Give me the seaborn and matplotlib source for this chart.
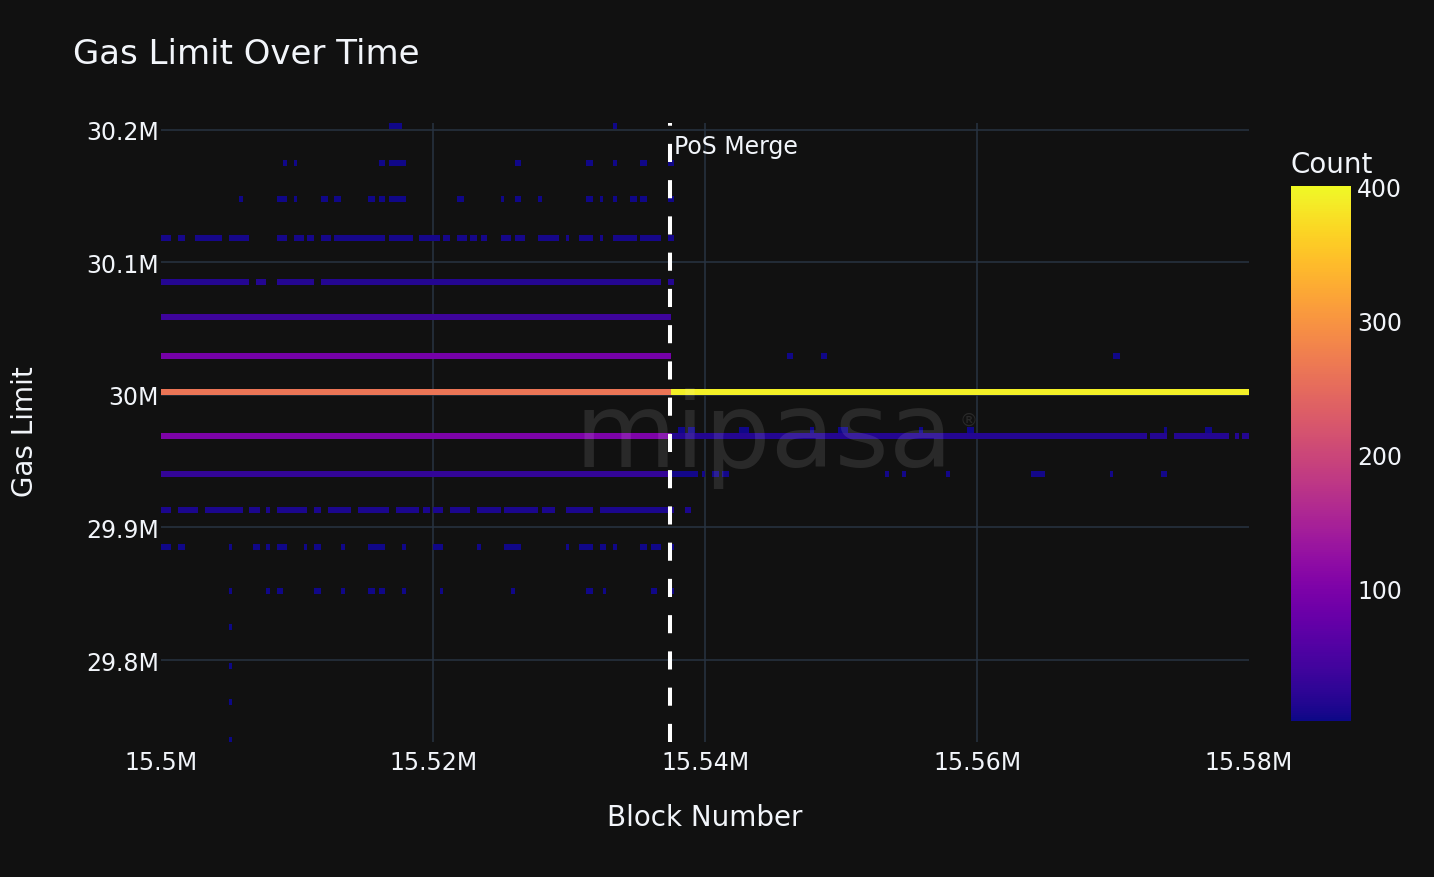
"""
Gas limit per block around the PoS merge, drawn as a 2D count histogram.
"""

import matplotlib
matplotlib.use("Agg")
import matplotlib.pyplot as plt
import numpy as np
import seaborn as sns

# ── Style ─────────────────────────────────────────────────────────────────────
BG = "#111111"
GRID = "#283442"
TEXT = "#f2f5fa"

sns.set_theme(style="dark", rc={
    "figure.facecolor": BG,
    "axes.facecolor": BG,
    "text.color": TEXT,
    "xtick.color": TEXT,
    "ytick.color": TEXT,
})
plt.rcParams["font.family"] = ["DejaVu Sans"]

# ── Data ──────────────────────────────────────────────────────────────────────
BLOCK0 = 15_500_000
MERGE_BLOCK = 15_537_394
XBIN = 250        # blocks per cell
GAS_HALF = 2_250  # half height of a gas-limit cell

X_TICKS = [15_500_000, 15_520_000, 15_540_000, 15_560_000, 15_580_000]
X_LABELS = ["15.5M", "15.52M", "15.54M", "15.56M", "15.58M"]
Y_TICKS = [29_800_000, 29_900_000, 30_000_000, 30_100_000, 30_200_000]
Y_LABELS = ["29.8M", "29.9M", "30M", "30.1M", "30.2M"]
Y_LIM = (29_738_150, 30_205_050)
CBAR_TICKS = [100, 200, 300, 400]

# gas limit bands (about 1/1024 steps around 30M) and their pre-merge cell count
GAS_LEVELS = [30_202_900, 30_174_800, 30_147_700, 30_118_300, 30_085_100,
              30_058_700, 30_029_500, 30_002_100, 29_968_900, 29_940_500,
              29_913_300, 29_885_200, 29_852_000, 29_824_800, 29_795_600,
              29_768_100, 29_739_800]
PRE_COUNTS = [3, 3, 3, 6, 16, 38, 92, 262, 100, 28, 9, 4, 3, 2, 2, 2, 2]

# filled runs per band, as (first, last) block offsets from 15.5M
RUNS_30203 = [(16840, 17720), (33300, 33600)]
RUNS_30175 = [(8897, 9338), (9632, 10074), (16103, 16544), (16838, 18015),
              (26103, 26544), (31250, 31691), (33309, 33603), (35221, 35662),
              (37279, 37647)]
RUNS_30148 = [(5662, 6103), (8456, 9338), (9632, 10074), (11691, 12132),
              (12868, 13309), (15221, 15662), (16103, 16544), (16838, 18015),
              (21691, 22132), (24926, 25221), (26103, 26544), (27721, 28015),
              (31250, 31691), (32132, 32426), (33309, 33603), (34485, 34926),
              (35221, 35662), (37279, 37647)]
RUNS_30118 = [(0, 809), (1250, 1691), (2426, 4485), (4926, 6544), (8456, 9338),
              (9632, 10515), (10809, 11250), (11691, 12426), (12868, 16544),
              (16838, 18456), (18897, 20515), (20809, 21250), (21691, 22426),
              (22868, 23309), (23603, 24044), (24926, 25662), (26103, 26838),
              (27721, 29338), (29632, 30074), (30809, 31691), (32132, 32426),
              (33309, 34926), (35221, 36838), (37279, 37647)]
RUNS_30085 = [(0, 6544), (6912, 7721), (8456, 11250), (11691, 36765), (37279, 37721)]
RUNS_30059 = [(0, 37426)]
RUNS_30030 = [(0, 37426)]
RUNS_30002 = [(0, 37426)]
RUNS_29969 = [(0, 37426)]
RUNS_29941 = [(0, 37426)]
RUNS_29913 = [(0, 809), (1250, 2868), (3309, 6103), (6544, 7279), (7721, 8015),
              (8456, 10809), (11250, 11691), (12132, 14044), (14485, 16838),
              (17279, 18897), (19338, 19632), (20074, 20809), (21250, 22868),
              (23309, 24926), (25221, 27721), (28015, 28897), (29632, 31691),
              (32132, 37647), (38456, 38897)]
RUNS_29885 = [(0, 809), (1250, 1691), (4926, 5221), (6838, 7279), (7721, 8015),
              (8456, 9338), (10515, 10809), (11250, 11691), (13309, 13603),
              (15221, 16544), (17721, 18015), (20074, 20809), (23309, 23603),
              (25221, 26544), (29632, 30074), (30809, 31691), (32132, 32868),
              (33309, 33603), (35221, 35662), (36103, 36838), (37279, 37721)]
RUNS_29852 = [(4926, 5221), (7721, 8015), (8456, 8897), (11250, 11691),
              (13309, 13603), (15221, 15662), (16103, 16544), (17721, 18015),
              (20515, 20809), (25662, 26103), (31250, 31691), (32426, 32868),
              (36103, 36544), (37279, 37721)]
RUNS_29825 = [(4926, 5221)]
RUNS_29796 = [(4926, 5221)]
RUNS_29768 = [(4926, 5221)]
RUNS_29740 = [(4926, 5221)]

# after the merge
POST_LEVELS = [30_029_500, 30_002_100, 29_973_800, 29_968_900, 29_940_500]
POST_COUNTS = [3, 392, 4, 16, 5]
POST_RUNS_30030 = [(46103, 46618), (48456, 48971), (70074, 70515)]
POST_RUNS_30002 = [(37426, 80000)]
POST_RUNS_29974 = [(38015, 38456), (38824, 39265), (42426, 43235), (47794, 48088),
                   (49632, 50441), (55735, 56103), (59338, 59706), (73676, 74118),
                   (76838, 77279)]
POST_RUNS_29969 = [(37426, 72426), (72868, 74118), (74485, 78382), (78897, 79191),
                   (79559, 80000)]
POST_RUNS_29941 = [(37426, 39412), (39706, 40000), (40515, 40882), (41250, 41691),
                   (53309, 53603), (54485, 54853), (57721, 58015), (64044, 64926),
                   (69632, 70074), (73529, 74044)]

PRE_RUNS = [RUNS_30203, RUNS_30175, RUNS_30148, RUNS_30118, RUNS_30085, RUNS_30059,
            RUNS_30030, RUNS_30002, RUNS_29969, RUNS_29941, RUNS_29913, RUNS_29885,
            RUNS_29852, RUNS_29825, RUNS_29796, RUNS_29768, RUNS_29740]
POST_RUNS = [POST_RUNS_30030, POST_RUNS_30002, POST_RUNS_29974, POST_RUNS_29969,
             POST_RUNS_29941]

# ── One weighted point per filled cell ────────────────────────────────────────
xs, ys, ws = [], [], []


def add_runs(runs, gas, count):
    for a, b in runs:
        i0 = int(round(a / XBIN))
        i1 = max(i0 + 1, int(round(b / XBIN)))
        for i in range(i0, i1):
            xs.append(BLOCK0 + (i + 0.5) * XBIN)
            ys.append(gas)
            ws.append(count)


for gas, count, runs in zip(GAS_LEVELS, PRE_COUNTS, PRE_RUNS):
    add_runs(runs, gas, count)
for gas, count, runs in zip(POST_LEVELS, POST_COUNTS, POST_RUNS):
    add_runs(runs, gas, count)

# cell edges: one thin cell around each gas band, empty cells in between
x_edges = np.arange(BLOCK0, BLOCK0 + 80_001, XBIN)
levels = np.array(sorted(set(GAS_LEVELS) | set(POST_LEVELS)))
y_edges = np.sort(np.concatenate([levels - GAS_HALF, levels + GAS_HALF]))

# ── Figure ────────────────────────────────────────────────────────────────────
W, H = 1434, 878
fig = plt.figure(figsize=(W / 100, H / 100), dpi=100, facecolor=BG)
ax = fig.add_axes([161 / W, 1 - 743 / H, 1088 / W, 619 / H])
cax = fig.add_axes([1291 / W, 1 - 722 / H, 60 / W, 535 / H])

for t in X_TICKS[1:-1]:
    ax.axvline(t, color=GRID, lw=1.1, zorder=0)
for t in Y_TICKS:
    ax.axhline(t, color=GRID, lw=1.1, zorder=0)

sns.histplot(
    x=xs, y=ys, weights=ws, bins=[x_edges, y_edges],
    cmap="plasma", vmin=1, vmax=400.5,
    cbar=True, cbar_ax=cax, ax=ax,
)

ax.set_xlim(x_edges[0], x_edges[-1])
ax.set_ylim(*Y_LIM)
ax.set_xticks(X_TICKS, X_LABELS)
ax.set_yticks(Y_TICKS, Y_LABELS)
ax.tick_params(axis="x", length=0, labelsize=17, colors=TEXT, pad=6)
ax.tick_params(axis="y", length=0, labelsize=17, colors=TEXT, pad=1.5)
ax.set_xlabel("")
ax.set_ylabel("")
ax.grid(False)
for s in ax.spines.values():
    s.set_visible(False)

# merge marker
ax.axvline(MERGE_BLOCK, color="white", lw=2.9, linestyle=(0, (4.5, 4.5)), zorder=5)
ax.annotate("PoS Merge", xy=(MERGE_BLOCK, 0.951), xycoords=("data", "axes fraction"),
            xytext=(3, 0), textcoords="offset points",
            ha="left", va="baseline", fontsize=17, color=TEXT)

# colorbar
cb = ax.collections[-1].colorbar
cb.outline.set_visible(False)
cb.set_ticks(CBAR_TICKS)
cax.tick_params(length=0, labelsize=17, colors=TEXT, pad=4.3)
fig.text(1291 / W, 1 - 173 / H, "Count", fontsize=20, color=TEXT,
         ha="left", va="baseline")

# titles
fig.text(73 / W, 1 - 64.5 / H, "Gas Limit Over Time", fontsize=24.5, color=TEXT,
         ha="left", va="baseline")
fig.text(705 / W, 1 - 826 / H, "Block Number", fontsize=20, color=TEXT,
         ha="center", va="baseline")
fig.text(25 / W, 1 - 432 / H, "Gas Limit", fontsize=20, color=TEXT,
         ha="center", va="center", rotation=90)

# watermark
fig.text(575 / W, 1 - 467 / H, "mipasa", fontsize=75, color="white", alpha=0.1,
         ha="left", va="baseline", zorder=10)
fig.text(968 / W, 1 - 421 / H, "®", fontsize=13, color="white", alpha=0.1,
         ha="center", va="center", zorder=10)

fig.savefig("out.png", dpi=100, facecolor=BG)
